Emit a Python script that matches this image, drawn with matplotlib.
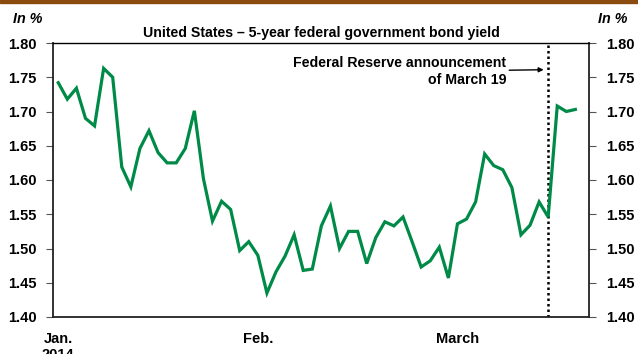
import matplotlib
matplotlib.use('Agg')
import matplotlib.pyplot as plt
from matplotlib.patches import Rectangle

plt.rcParams['font.family'] = ['Liberation Sans', 'DejaVu Sans']

# 5-year US federal government bond yield, weekdays from early Jan. to late March 2014
yields = [
    1.742, 1.718, 1.734, 1.690, 1.679, 1.763, 1.750, 1.619, 1.590, 1.646,
    1.672, 1.640, 1.625, 1.625, 1.646, 1.701, 1.602, 1.540, 1.569, 1.557,
    1.497, 1.510, 1.490, 1.435, 1.466, 1.489, 1.520, 1.468, 1.470, 1.533,
    1.562, 1.500, 1.525, 1.525, 1.478, 1.516, 1.539, 1.533, 1.546, 1.510,
    1.473, 1.482, 1.502, 1.457, 1.536, 1.543, 1.568, 1.638, 1.621, 1.615,
    1.589, 1.520, 1.534, 1.568, 1.546, 1.708, 1.700, 1.703,
]
month_pos = [0, 22, 44]
month_labels = ['Jan.\n2014', 'Feb.', 'March']
fed_day = 54  # March 19
y_ticks = [1.40, 1.45, 1.50, 1.55, 1.60, 1.65, 1.70, 1.75, 1.80]

fig = plt.figure(figsize=(6.38, 3.54), dpi=100)
ax = fig.add_axes([53 / 638, 1 - 317 / 354, 536 / 638, 274 / 354])

days = list(range(len(yields)))
ax.plot(days, yields, color='#008A47', lw=2.3, solid_joinstyle='miter', zorder=3)
ax.axvline(fed_day, color='black', ls=(0, (1, 1.2)), lw=1.8, zorder=2)

ax.set_xlim(-0.58, 58.5)
ax.set_ylim(1.40, 1.80)
ax.set_yticks(y_ticks)
ax.set_yticklabels(['%.2f' % v for v in y_ticks])
ax.set_xticks(month_pos)
ax.set_xticklabels(month_labels, fontsize=10.5, fontweight='bold', va='top',
                   linespacing=1.15)
ax.tick_params(axis='x', length=0, pad=11)
ax.tick_params(axis='y', which='both', direction='out', length=5, width=0.8,
               labelsize=10.5, pad=7, left=True, right=True,
               labelleft=True, labelright=True, color='#555555')
for lab in ax.get_yticklabels():
    lab.set_fontweight('bold')
ax.spines['top'].set_linewidth(1.0)
for side in ['left', 'right', 'bottom']:
    ax.spines[side].set_linewidth(1.3)
    ax.spines[side].set_color('#222222')

ax.set_title('United States \u2013 5-year federal government bond yield',
             fontsize=10.2, fontweight='bold', pad=4)

fig.text(13 / 638, 1 - 19 / 354, 'In %', fontsize=10.3, fontweight='bold',
         style='italic', va='center', ha='left')
fig.text(627 / 638, 1 - 19 / 354, 'In %', fontsize=10.3, fontweight='bold',
         style='italic', va='center', ha='right')

ax.annotate('Federal Reserve announcement\nof March 19',
            xy=(fed_day - 0.5, 1.761), xytext=(fed_day - 4.6, 1.758),
            ha='right', va='center', fontsize=10.2, fontweight='bold',
            multialignment='right', linespacing=1.25,
            arrowprops=dict(arrowstyle='-|>', color='black', lw=1.0,
                            mutation_scale=7, shrinkA=0, shrinkB=0))

fig.patches.append(Rectangle((0, 1 - 3 / 354), 1, 3 / 354,
                             transform=fig.transFigure, color='#8B4A0E'))

fig.savefig('out.png', dpi=100)
